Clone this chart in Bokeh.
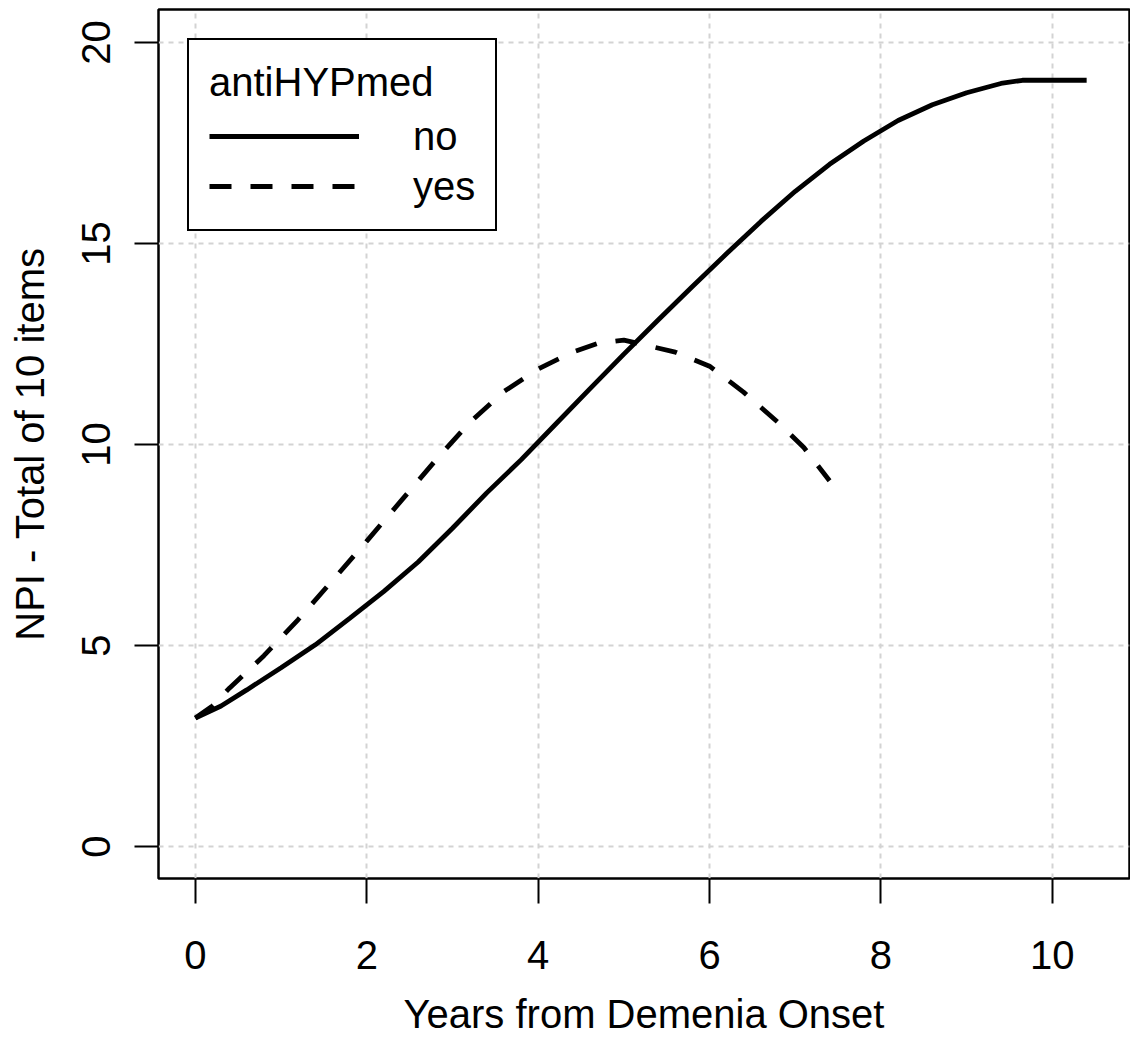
from bokeh.plotting import figure
from bokeh.models import Range1d, FixedTicker, Legend, LegendItem
from bokeh.embed import file_html
from bokeh.resources import INLINE

# ---- data ----
no_x = [0.0, 0.3, 0.6, 1.0, 1.4, 1.8, 2.2, 2.6, 3.0, 3.4, 3.8, 4.2, 4.6, 5.0,
        5.4, 5.8, 6.2, 6.6, 7.0, 7.4, 7.8, 8.2, 8.6, 9.0, 9.4, 9.65, 10.0, 10.4]
no_y = [3.2, 3.5, 3.9, 4.45, 5.02, 5.68, 6.35, 7.08, 7.92, 8.8, 9.62, 10.5, 11.38, 12.25,
        13.1, 13.93, 14.75, 15.55, 16.3, 16.97, 17.55, 18.06, 18.45, 18.75, 18.98, 19.06, 19.06, 19.06]

yes_x = [0.0, 0.2, 0.4, 0.8, 1.2, 1.6, 2.0, 2.4, 2.8, 3.2, 3.6, 4.0, 4.4, 4.7,
         5.0, 5.3, 5.6, 6.0, 6.4, 6.8, 7.1, 7.4]
yes_y = [3.2, 3.5, 3.95, 4.75, 5.65, 6.62, 7.6, 8.6, 9.6, 10.55, 11.32, 11.88, 12.3, 12.52,
         12.6, 12.45, 12.3, 11.95, 11.3, 10.55, 9.93, 9.1]

x_ticks = [0, 2, 4, 6, 8, 10]
y_ticks = [0, 5, 10, 15, 20]
legend_title = "antiHYPmed"
series_names = ["no", "yes"]

FONT = "Liberation Sans"
FS = "40px"

p = figure(width=1130, height=1038, output_backend="svg", toolbar_location=None,
           x_range=Range1d(-0.43, 10.9), y_range=Range1d(-0.79, 20.82),
           min_border_left=158, min_border_top=9, min_border_right=1,
           min_border_bottom=158)
p.background_fill_color = "white"
p.border_fill_color = "white"
p.outline_line_color = "black"
p.outline_line_width = 2.5
p.outline_line_alpha = 1.0

for ax, ticks in ((p.xaxis[0], x_ticks), (p.yaxis[0], y_ticks)):
    ax.ticker = FixedTicker(ticks=ticks)
    ax.axis_line_color = None
    ax.major_tick_in = 0
    ax.major_tick_line_color = "black"
    ax.major_tick_line_width = 2
    ax.minor_tick_line_color = None
    ax.major_label_text_font = FONT
    ax.major_label_text_font_size = FS
    ax.major_label_text_color = "black"
    ax.axis_label_text_font = FONT
    ax.axis_label_text_font_size = FS
    ax.axis_label_text_font_style = "normal"
    ax.axis_label_text_color = "black"

p.xaxis.major_tick_out = 25
p.yaxis.major_tick_out = 24
p.xaxis.major_label_standoff = 37
p.yaxis.major_label_standoff = 24
p.yaxis.major_label_orientation = "vertical"
p.xaxis.axis_label = "Years from Demenia Onset"
p.yaxis.axis_label = "NPI - Total of 10 items"
p.xaxis.axis_label_standoff = 20
p.yaxis.axis_label_standoff = 28

for g, ticks in ((p.xgrid[0], x_ticks), (p.ygrid[0], y_ticks)):
    g.ticker = FixedTicker(ticks=ticks)
    g.grid_line_color = "#d3d3d3"
    g.grid_line_dash = "5 5"
    g.grid_line_width = 2

r_no = p.line(no_x, no_y, line_color="black", line_width=4.8)
r_yes = p.line(yes_x, yes_y, line_color="black", line_width=4.8, line_dash="22 19")

legend = Legend(items=[LegendItem(label=series_names[0], renderers=[r_no]),
                       LegendItem(label=series_names[1], renderers=[r_yes])],
                location="top_left", title=legend_title)
legend.margin = 29
legend.padding = 20
legend.spacing = 4
legend.title_standoff = 8
legend.glyph_width = 150
legend.glyph_height = 46
legend.label_height = 46
legend.label_standoff = 54
legend.label_text_font = FONT
legend.label_text_font_size = FS
legend.label_text_color = "black"
legend.title_text_font = FONT
legend.title_text_font_size = FS
legend.title_text_font_style = "normal"
legend.title_text_color = "black"
legend.border_line_color = "black"
legend.border_line_alpha = 1.0
legend.border_line_width = 2.5
legend.background_fill_color = "white"
legend.background_fill_alpha = 1.0
p.add_layout(legend)

open("out.html", "w").write(file_html(p, INLINE))
